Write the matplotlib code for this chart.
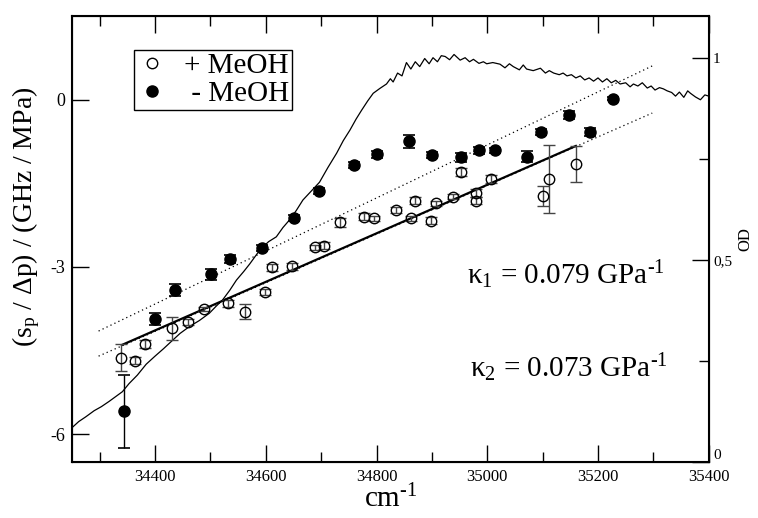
import matplotlib
matplotlib.use('Agg')
import matplotlib.pyplot as plt
from matplotlib.lines import Line2D
from matplotlib.ticker import MultipleLocator, FixedLocator

plt.rcParams['font.family'] = ['Liberation Serif', 'DejaVu Serif']
plt.rcParams['mathtext.fontset'] = 'custom'
plt.rcParams['mathtext.rm'] = 'Liberation Serif'
plt.rcParams['mathtext.it'] = 'Liberation Serif:italic'
plt.rcParams['axes.unicode_minus'] = False

# - MeOH (filled)
nometh_x = [34343, 34400, 34436, 34501, 34536, 34593, 34651, 34696, 34760, 34801,
            34858, 34901, 34953, 34985, 35014, 35072, 35097, 35147, 35186, 35227]
nometh_y = [-5.59, -3.93, -3.41, -3.13, -2.86, -2.66, -2.12, -1.64, -1.17, -0.98,
            -0.75, -0.99, -1.03, -0.91, -0.91, -1.02, -0.58, -0.28, -0.58, 0.02]
nometh_err = [0.65, 0.11, 0.11, 0.10, 0.07, 0.05, 0.06, 0.06, 0.05, 0.06,
              0.12, 0.05, 0.08, 0.06, 0.05, 0.10, 0.05, 0.07, 0.07, 0.03]

# + MeOH (open)
meth_x = [34338, 34364, 34381, 34431, 34460, 34489, 34532, 34562, 34599, 34612,
          34647, 34688, 34706, 34734, 34777, 34795, 34836, 34863, 34869, 34898,
          34907, 34939, 34953, 34980, 34980, 35007, 35100, 35112, 35160]
meth_y = [-4.63, -4.68, -4.38, -4.10, -3.99, -3.75, -3.65, -3.80, -3.45, -3.01,
          -2.99, -2.65, -2.62, -2.20, -2.10, -2.13, -1.98, -2.13, -1.81, -2.17,
          -1.86, -1.74, -1.30, -1.68, -1.81, -1.42, -1.72, -1.43, -1.155]
meth_err = [0.24, 0.06, 0.07, 0.21, 0.06, 0.04, 0.06, 0.14, 0.05, 0.06,
            0.06, 0.05, 0.06, 0.08, 0.06, 0.05, 0.06, 0.04, 0.07, 0.06,
            0.05, 0.05, 0.07, 0.07, 0.07, 0.07, 0.18, 0.61, 0.33]

# linear fit and dotted guide lines (end points)
fit_x = [34340, 35160]
fit_y = [-4.40, -0.83]
dot1_x = [34298, 35301]
dot1_y = [-4.15, 0.62]
dot2_x = [34298, 35298]
dot2_y = [-4.60, -0.24]

# absorption spectrum (OD, right axis)
od_x = [34250, 34262, 34275, 34290, 34303, 34317, 34330, 34341, 34353, 34368,
        34384, 34400, 34415, 34426, 34445, 34462, 34480, 34498, 34510, 34522,
        34535, 34547, 34560, 34571, 34589, 34605, 34619, 34631, 34643, 34655,
        34667, 34682, 34697, 34712, 34728, 34740, 34752, 34763, 34773, 34784,
        34794, 34806, 34818, 34825, 34830, 34838, 34846, 34854, 34862, 34870,
        34878, 34887, 34895, 34902, 34910, 34917, 34924, 34932, 34940, 34951,
        34960, 34968, 34975, 34985, 34993, 34999, 35010, 35023, 35032, 35040,
        35047, 35058, 35065, 35071, 35083, 35096, 35105, 35112, 35120, 35130,
        35137, 35144, 35152, 35160, 35168, 35176, 35184, 35192, 35200, 35208,
        35216, 35224, 35232, 35240, 35250, 35258, 35264, 35272, 35280, 35289,
        35296, 35303, 35311, 35318, 35325, 35333, 35340, 35347, 35355, 35362,
        35367, 35376, 35385, 35393, 35400]
od_y = [0.085, 0.100, 0.112, 0.127, 0.137, 0.150, 0.163, 0.174, 0.194, 0.215,
        0.242, 0.262, 0.280, 0.294, 0.318, 0.335, 0.350, 0.368, 0.385, 0.401,
        0.425, 0.450, 0.471, 0.490, 0.524, 0.545, 0.557, 0.580, 0.599, 0.622,
        0.648, 0.670, 0.692, 0.728, 0.764, 0.795, 0.821, 0.848, 0.870, 0.893,
        0.912, 0.924, 0.935, 0.948, 0.940, 0.962, 0.955, 0.988, 0.972, 0.990,
        0.978, 0.998, 0.985, 1.000, 0.990, 1.005, 1.003, 0.995, 1.008, 0.994,
        1.000, 0.990, 0.996, 0.986, 0.990, 0.985, 0.988, 0.984, 0.975, 0.985,
        0.978, 0.970, 0.982, 0.972, 0.968, 0.974, 0.962, 0.968, 0.962, 0.958,
        0.962, 0.955, 0.958, 0.950, 0.955, 0.945, 0.950, 0.942, 0.950, 0.940,
        0.948, 0.938, 0.944, 0.935, 0.938, 0.928, 0.935, 0.930, 0.938, 0.925,
        0.930, 0.920, 0.926, 0.923, 0.918, 0.914, 0.905, 0.915, 0.902, 0.918,
        0.912, 0.903, 0.896, 0.908, 0.905]

fig = plt.figure(figsize=(7.58, 5.18), dpi=100)
ax = fig.add_axes([0.095, 0.108, 0.84, 0.861])
ax2 = ax.twinx()

ax2.plot(od_x, od_y, color='black', lw=0.9)
ax2.set_ylim(0, 1.103)
ax2.yaxis.set_major_locator(FixedLocator([0, 0.5, 1]))
ax2.set_yticklabels(['0', '0,5', '1'])
ax2.yaxis.set_minor_locator(FixedLocator([0.25, 0.75]))
ax2.tick_params(axis='y', which='major', direction='in', length=12, width=1, labelsize=11, pad=3)
ax2.tick_params(axis='y', which='minor', direction='in', length=7, width=1)
ax2.set_ylabel('OD', fontsize=12, labelpad=4)
for lab in ax2.get_yticklabels():
    if lab.get_text() == '0':
        lab.set_verticalalignment('bottom')

ax.set_zorder(ax2.get_zorder() + 1)
ax.patch.set_visible(False)

ax.plot(dot1_x, dot1_y, color='black', lw=0.9, ls=(0, (1, 2.5)))
ax.plot(dot2_x, dot2_y, color='black', lw=0.9, ls=(0, (1, 2.5)))
ax.plot(fit_x, fit_y, color='black', lw=1.6)

ax.errorbar(meth_x, meth_y, yerr=meth_err, fmt='o', mfc='none', mec='black', mew=1,
            ms=7.5, ecolor='#444444', elinewidth=1, capsize=4.5, capthick=1)
ax.errorbar(nometh_x, nometh_y, yerr=nometh_err, fmt='o', mfc='black', mec='black',
            ms=8, ecolor='black', elinewidth=1, capsize=4.5, capthick=1.2)

ax.set_xlim(34250, 35400)
ax.set_ylim(-6.5, 1.5)
ax.xaxis.set_major_locator(MultipleLocator(200))
ax.xaxis.set_minor_locator(MultipleLocator(100))
ax.yaxis.set_major_locator(MultipleLocator(3))
ax.tick_params(axis='both', which='major', direction='in', length=12, width=1,
               labelsize=12, top=True, pad=5)
ax.tick_params(axis='x', which='minor', direction='in', length=7, width=1, top=True)
ax.tick_params(axis='y', which='major', labelsize=13)
for sp in ax.spines.values():
    sp.set_linewidth(1.5)

ax.set_xlabel(r'cm$^{\text{-}1}$', fontsize=21, labelpad=0)
ax.set_ylabel('(s$_\\mathrm{p}$ / Δp) / (GHz / MPa)', fontsize=20)
# label sits a bit above the axes centre in the original
ax.yaxis.set_label_coords(-0.047, 0.55)

ax.text(34963, -3.30, r'κ$_1$ = 0.079 GPa$^{\text{-}1}$', fontsize=21)
ax.text(34968, -4.98, r'κ$_2$ = 0.073 GPa$^{\text{-}1}$', fontsize=21)

handles = [Line2D([], [], ls='none', marker='o', mfc='none', mec='black', ms=7.5),
           Line2D([], [], ls='none', marker='o', mfc='black', mec='black', ms=8)]
leg = ax.legend(handles, ['+ MeOH', ' - MeOH'], loc='upper left',
                bbox_to_anchor=(0.098, 0.925), fontsize=21,
                frameon=True, fancybox=False, edgecolor='black', framealpha=1,
                handletextpad=0.6, borderpad=0.1, labelspacing=0.05,
                handlelength=1.0, borderaxespad=0)
leg.get_frame().set_linewidth(1)

fig.savefig('out.png', dpi=100)
